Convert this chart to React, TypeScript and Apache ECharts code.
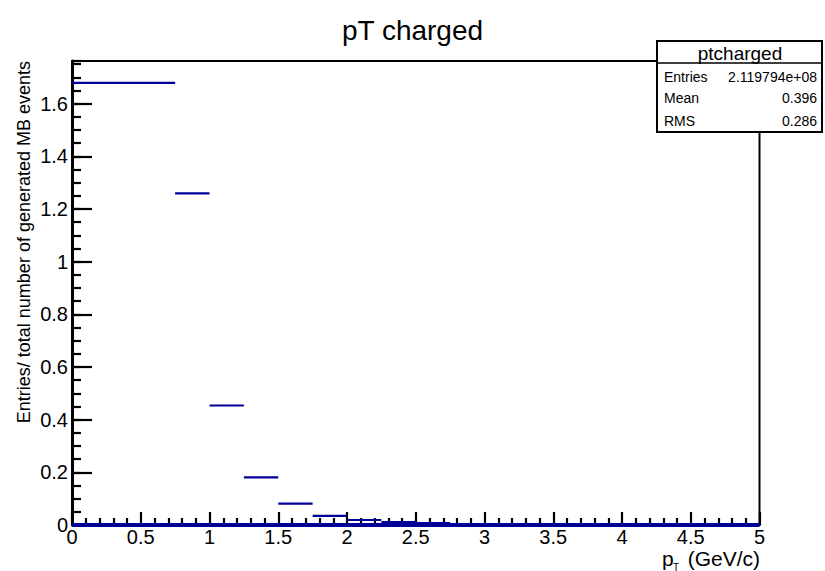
import React, { useEffect, useRef } from "react";
import * as echarts from "echarts";

// ---- Data ----
const binLow = [0, 0.75, 1.0, 1.25, 1.5, 1.75, 2.0, 2.25, 2.5];
const binHigh = [0.75, 1.0, 1.25, 1.5, 1.75, 2.0, 2.25, 2.5, 2.75];
const binValues = [1.679, 1.259, 0.4537, 0.181, 0.081, 0.035, 0.019, 0.0114, 0.007];
const baselineX = [0, 5];
const baselineY = [0, 0];

const xMin = 0;
const xMax = 5;
const xMajor = 0.5;
const yMin = 0;
const yMax = 1.762;
const yMajor = 0.2;
const yMinor = 0.05;

const titleText = "pT charged";
const yAxisTitle = "Entries/ total number of generated MB events";
const statsName = "ptcharged";
const statLabels = ["Entries", "Mean", "RMS"];
const statValues = ["2.119794e+08", "0.396", "0.286"];

const FONT = "'Liberation Sans', Arial, Helvetica, sans-serif";
const BLUE = "#000099";

export default function App() {
  const ref = useRef<HTMLDivElement>(null);

  useEffect(() => {
    document.body.style.margin = "0";
    if (!ref.current) return;
    const chart = echarts.init(ref.current, undefined, { renderer: "svg" });

    const segData = binLow.map((lo, i) => [lo, binHigh[i], binValues[i]]);
    const baseData = baselineX.map((x, i) => [x, baselineY[i]]);

    const statRowsY = [77, 98, 121];
    const statGraphics: any[] = [];
    statLabels.forEach((lab, i) => {
      statGraphics.push({
        type: "text",
        x: 664,
        y: statRowsY[i],
        z: 101,
        style: { text: lab, fontSize: 14, fontFamily: FONT, fill: "#000", align: "left", verticalAlign: "middle" },
      });
      statGraphics.push({
        type: "text",
        x: 817,
        y: statRowsY[i],
        z: 101,
        style: { text: statValues[i], fontSize: 14, fontFamily: FONT, fill: "#000", align: "right", verticalAlign: "middle" },
      });
    });

    const option: any = {
      animation: false,
      textStyle: { fontFamily: FONT },
      title: {
        text: titleText,
        left: "center",
        top: 11,
        textStyle: { fontSize: 28, fontWeight: "normal", color: "#000", fontFamily: FONT },
      },
      grid: {
        left: 72,
        right: 65.5,
        top: 61,
        bottom: 46,
        show: true,
        borderColor: "#000",
        borderWidth: 2,
        backgroundColor: "transparent",
      },
      xAxis: {
        type: "value",
        min: xMin,
        max: xMax,
        interval: xMajor,
        axisLine: { show: true, lineStyle: { color: "#000", width: 2 } },
        axisTick: { show: true, inside: true, length: 13, lineStyle: { color: "#000", width: 2.2 } },
        minorTick: { show: true, splitNumber: 5, length: 7, lineStyle: { color: "#000", width: 2.2 } },
        splitLine: { show: false },
        axisLabel: { fontSize: 20, color: "#000", margin: 2, fontFamily: FONT },
      },
      yAxis: [
        {
          type: "value",
          position: "left",
          min: yMin,
          max: yMax,
          interval: yMajor,
          axisLine: { show: true, lineStyle: { color: "#000", width: 3 } },
          axisTick: { show: true, inside: true, length: 20, lineStyle: { color: "#000", width: 2.2 } },
          splitLine: { show: false },
          axisLabel: {
            fontSize: 20,
            color: "#000",
            margin: 4,
            fontFamily: FONT,
            showMaxLabel: false,
            formatter: (v: number) => {
              const r = v / yMajor;
              return Math.abs(r - Math.round(r)) < 1e-6 ? String(Number(v.toFixed(2))) : "";
            },
          },
        },
        {
          type: "value",
          position: "left",
          min: yMin,
          max: yMax,
          interval: yMinor,
          axisLine: { show: false },
          axisTick: { show: true, inside: true, length: 9, lineStyle: { color: "#000", width: 2.2 } },
          splitLine: { show: false },
          axisLabel: { show: false },
        },
      ],
      series: [
        {
          type: "line",
          data: baseData,
          xAxisIndex: 0,
          yAxisIndex: 0,
          symbol: "none",
          clip: false,
          z: 5,
          lineStyle: { color: BLUE, width: 4 },
        },
        {
          type: "custom",
          xAxisIndex: 0,
          yAxisIndex: 0,
          data: segData,
          encode: { x: [0, 1], y: 2 },
          clip: false,
          z: 6,
          renderItem: (_params: any, api: any) => {
            const p1 = api.coord([api.value(0), api.value(2)]);
            const p2 = api.coord([api.value(1), api.value(2)]);
            return {
              type: "line",
              shape: { x1: p1[0], y1: p1[1], x2: p2[0], y2: p2[1] },
              style: { stroke: BLUE, lineWidth: 2.2 },
            };
          },
        },
      ],
      graphic: [
        {
          type: "text",
          x: 24,
          y: 61,
          rotation: Math.PI / 2,
          style: {
            text: yAxisTitle,
            fontSize: 18,
            fontFamily: FONT,
            fill: "#000",
            align: "right",
            verticalAlign: "middle",
          },
        },
        {
          type: "text",
          x: 662,
          y: 558,
          style: { text: "p", fontSize: 21, fontFamily: FONT, fill: "#000", align: "left", verticalAlign: "middle" },
        },
        {
          type: "text",
          x: 673,
          y: 567,
          style: { text: "T", fontSize: 10, fontFamily: FONT, fill: "#000", align: "left", verticalAlign: "middle" },
        },
        {
          type: "text",
          x: 760,
          y: 558,
          style: { text: "(GeV/c)", fontSize: 21, fontFamily: FONT, fill: "#000", align: "right", verticalAlign: "middle" },
        },
        {
          type: "rect",
          z: 100,
          shape: { x: 657, y: 41, width: 165, height: 91 },
          style: { fill: "#fff", stroke: "#000", lineWidth: 2 },
        },
        {
          type: "line",
          z: 101,
          shape: { x1: 657, y1: 63, x2: 822, y2: 63 },
          style: { stroke: "#000", lineWidth: 1.5 },
        },
        {
          type: "text",
          x: 740,
          y: 53,
          z: 101,
          style: { text: statsName, fontSize: 19, fontFamily: FONT, fill: "#000", align: "center", verticalAlign: "middle" },
        },
        ...statGraphics,
      ],
    };

    chart.setOption(option);
    return () => {
      chart.dispose();
    };
  }, []);

  return (
    <div
      ref={ref}
      style={{ position: "fixed", left: 0, top: 0, width: 825, height: 571, background: "#fff" }}
    />
  );
}
